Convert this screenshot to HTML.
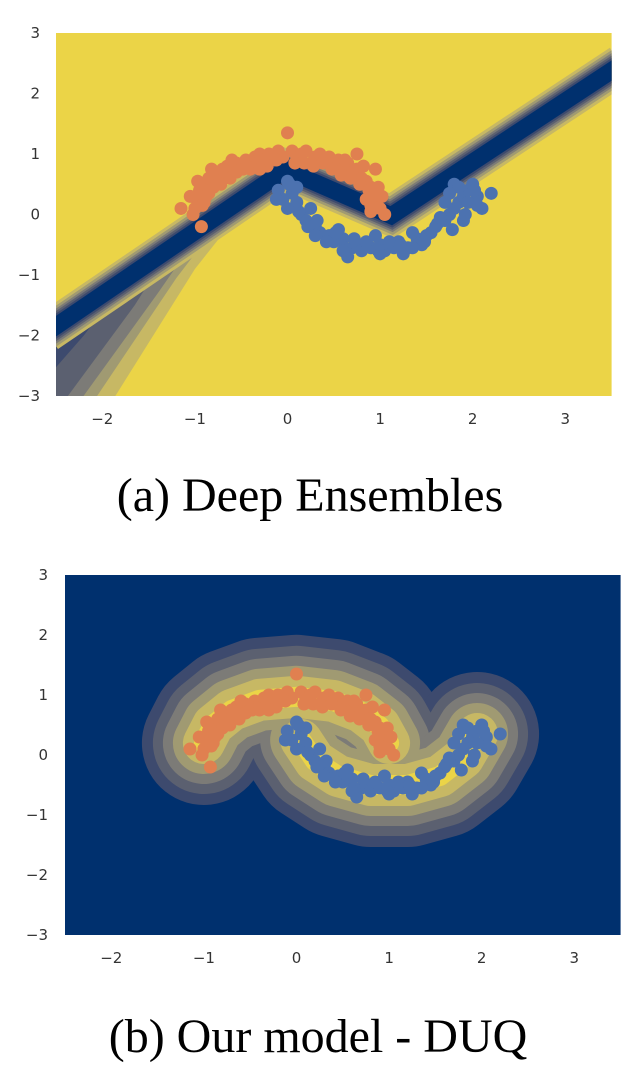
<!DOCTYPE html>
<html><head><meta charset="utf-8"><style>
body{margin:0;background:#fff;width:640px;height:1080px;overflow:hidden}
svg{display:block}
.t{font-family:"DejaVu Sans","Liberation Sans",sans-serif;font-size:15px;fill:#333}
.cap{font-family:"Liberation Serif",serif;font-size:48px;fill:#000}
</style></head><body>
<svg id="s" width="640" height="1080">
<text class="cap" x="310" y="511" text-anchor="middle">(a) Deep Ensembles</text>
<text class="cap" x="318" y="1052" text-anchor="middle">(b) Our model - DUQ</text>
</svg>
<script>
const orangeX=[-1.0,-0.98,-0.95,-0.9,-1.05,-0.92,-0.85,-0.8,-0.75,-0.7,-0.65,-0.6,-0.55,-0.5,-0.45,-0.4,-0.35,-0.3,-0.25,-0.2,-0.1,-0.05,0.0,0.05,0.1,0.15,0.2,0.3,0.35,0.4,0.45,0.5,0.55,0.6,0.65,0.7,0.75,0.8,0.85,0.9,0.95,0.85,0.95,1.0,0.9,1.05,-0.93,-1.15,-0.88,-0.72,0.95,0.75,
 -1.02,-0.97,-0.9,-0.85,-0.78,-0.7,-0.62,-0.55,-0.48,-0.4,-0.32,-0.22,-0.12,0.08,0.18,0.28,0.38,0.48,0.58,0.68,0.78,0.88,0.92,0.98,1.02,-0.82,-0.6,-0.3,0.25,0.62,0.82,0.9];
const orangeY=[0.1,0.25,0.4,0.5,0.3,0.15,0.6,0.45,0.7,0.6,0.8,0.75,0.85,0.8,0.9,0.85,0.95,1.0,0.9,1.0,1.05,0.95,1.35,1.05,0.95,1.0,1.05,0.95,1.0,0.9,0.95,0.85,0.9,0.75,0.85,0.7,0.75,0.6,0.55,0.45,0.35,0.25,0.2,0.1,0.05,0.0,-0.2,0.1,0.3,0.5,0.75,1.0,
 0.0,0.55,0.2,0.35,0.6,0.75,0.6,0.7,0.75,0.75,0.85,0.8,0.9,0.85,0.85,0.8,0.85,0.75,0.65,0.6,0.5,0.4,0.3,0.45,0.3,0.75,0.9,0.75,0.85,0.9,0.8,0.15];
const blueX=[0.0,-0.1,0.05,0.1,0.0,0.15,0.2,0.25,0.3,0.35,0.45,0.5,0.6,0.7,0.75,0.8,0.9,1.0,1.05,1.15,1.2,1.3,1.4,1.5,1.55,1.6,1.7,1.75,1.8,1.85,1.9,1.95,2.0,1.8,2.05,2.2,2.1,1.9,1.7,0.1,-0.05,0.55,0.65,0.95,1.25,1.45,2.05,1.85,
 -0.12,0.02,0.12,0.22,0.32,0.42,0.52,0.62,0.72,0.85,0.98,1.1,1.22,1.35,1.48,1.62,1.78,1.92,2.02,1.75,0.3,0.6,1.0,1.35,1.65,1.95];
const blueY=[0.55,0.4,0.35,0.2,0.1,0.0,-0.1,0.1,-0.2,-0.3,-0.35,-0.45,-0.4,-0.55,-0.5,-0.6,-0.55,-0.5,-0.6,-0.55,-0.45,-0.55,-0.4,-0.35,-0.3,-0.2,-0.1,0.0,0.1,0.2,0.3,0.4,0.5,0.5,0.3,0.35,0.1,-0.1,0.2,0.45,0.25,-0.25,-0.7,-0.35,-0.65,-0.5,0.15,0.45,
 0.25,0.5,0.05,-0.2,-0.1,-0.45,-0.3,-0.55,-0.4,-0.45,-0.6,-0.45,-0.5,-0.55,-0.45,-0.15,-0.25,0.0,0.4,0.35,-0.35,-0.6,-0.65,-0.3,-0.05,0.2];
const xTicks=[-2,-1,0,1,2,3];
const yTicks=[3,2,1,0,-1,-2,-3];
// top boundary polyline (data coords)
const bandX=[-2.6,-0.02,1.12,3.6];
const bandY=[-1.95,0.74,-0.02,2.48];
// bottom uncertainty ridge (orange arc + blue arc, data coords)
const ridgeAX=[-1.0,-0.9,-0.7,-0.4,0.0,0.4,0.7,0.9,1.0];
const ridgeAY=[0.2,0.5,0.75,0.92,0.97,0.9,0.72,0.48,0.2];
const ridgeBX=[0.05,0.2,0.45,0.8,1.2,1.55,1.8,1.95];
const ridgeBY=[0.25,-0.1,-0.35,-0.5,-0.5,-0.35,-0.05,0.35];

const NS="http://www.w3.org/2000/svg";
const svg=document.getElementById('s');
function mk(tag,at,parent){const e=document.createElementNS(NS,tag);for(const k in at)e.setAttribute(k,at[k]);(parent||svg).appendChild(e);return e;}

function panel(p){
  const sx=v=>p.x0+(v+2.5)*p.kx, sy=v=>p.y0+(3-v)*p.ky;
  const g=mk('g',{});
  
  
  const clip=mk('clipPath',{id:'c'+p.name},g);
  mk('rect',{x:p.x0,y:p.y0,width:6*p.kx,height:6*p.ky},clip);
  const bg=mk('rect',{x:p.x0,y:p.y0,width:6*p.kx,height:6*p.ky,fill:p.bg},g);
  
  
  const cg=mk('g',{'clip-path':'url(#c'+p.name+')'},g);
  
  
  p.contours(cg,sx,sy);
  const pts=mk('g',{},g);
  
  
  orangeX.forEach((x,i)=>{const c=mk('circle',{cx:sx(x),cy:sy(orangeY[i]),r:6.5,fill:'#e08050'},pts);
    
    });
  blueX.forEach((x,i)=>{const c=mk('circle',{cx:sx(x),cy:sy(blueY[i]),r:6.5,fill:'#4c72b0'},pts);
    
    });
  xTicks.forEach(v=>{const t=mk('text',{x:sx(v),y:p.y0+6*p.ky+28,'text-anchor':'middle',class:'t'},g);t.textContent=(v<0?'−':'')+Math.abs(v);
    
    });
  yTicks.forEach(v=>{const t=mk('text',{x:p.x0-p.ylx,y:sy(v)+5,'text-anchor':'end',class:'t'},g);t.textContent=(v<0?'−':'')+Math.abs(v);
    
    });
}
const layers=['#c7b864','#a09a72','#7c7b77','#5b6070','#3d4a6e','#00306e'];
panel({name:'deep-ensembles-plot',x0:56,y0:33,kx:92.6,ky:60.5,bg:'#ebd447',ylx:16,
 contours:(g,sx,sy)=>{
  const d=bandX.map((x,i)=>(i?'L':'M')+sx(x)+','+sy(bandY[i])).join(' ');
  const poly=(arr,c)=>mk('polygon',{points:arr.map(a=>sx(a[0])+','+sy(a[1])).join(' '),fill:c},g);
  poly([[-0.3,0.45],[-1.0,-0.9],[-1.9,-3.1],[-2.7,-3.1],[-2.7,-2.0]],'#c7b864');
  poly([[-0.6,0.15],[-1.2,-1.05],[-2.1,-3.1],[-2.7,-3.1],[-2.7,-2.0]],'#a09a72');
  poly([[-0.9,-0.2],[-1.4,-1.3],[-2.25,-3.1],[-2.7,-3.1],[-2.7,-2.0]],'#7c7b77');
  poly([[-1.3,-0.65],[-1.65,-1.5],[-2.42,-3.1],[-2.7,-3.1],[-2.7,-2.0]],'#5b6070');
  poly([[-1.8,-1.2],[-2.2,-2.0],[-2.6,-2.7],[-2.7,-2.7],[-2.7,-2.0]],'#3d4a6e');
  const w=[40,34,29,25,21,17];
  layers.forEach((c,i)=>mk('path',{d:d,fill:'none',stroke:c,'stroke-width':w[i],'stroke-linejoin':'miter'},g));
 }});
panel({name:'duq-plot',x0:65,y0:575,kx:92.6,ky:60,bg:'#00306e',ylx:17,
 contours:(g,sx,sy)=>{
  const da=ridgeAX.map((x,i)=>(i?'L':'M')+sx(x)+','+sy(ridgeAY[i])).join(' ');
  const db=ridgeBX.map((x,i)=>(i?'L':'M')+sx(x)+','+sy(ridgeBY[i])).join(' ');
  const cols=['#3d4a6e','#5b6070','#7c7b77','#a09a72','#c7b864','#ebd447'];
  const w=[124,102,82,62,42,20];
  cols.forEach((c,i)=>{
    mk('path',{d:da,fill:'none',stroke:c,'stroke-width':w[i],'stroke-linejoin':'round','stroke-linecap':'round'},g);
    mk('path',{d:db,fill:'none',stroke:c,'stroke-width':w[i],'stroke-linejoin':'round','stroke-linecap':'round'},g);
  });
 }});
</script>
</body></html>
